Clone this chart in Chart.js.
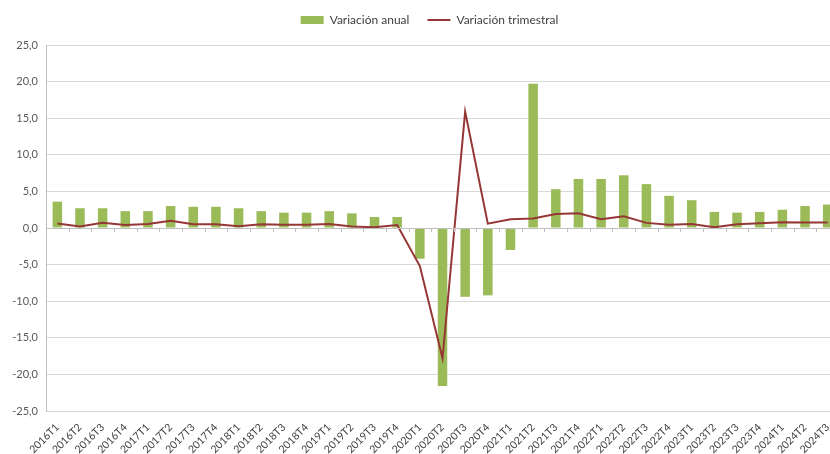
<!DOCTYPE html>
<html>
<head>
<meta charset="utf-8">
<script src="https://cdn.jsdelivr.net/npm/chart.js@4/dist/chart.umd.min.js"></script>
<style>
  html, body { margin: 0; padding: 0; background: #fff; overflow: hidden; }
  #wrap { width: 842px; height: 454px; position: relative; }
</style>
</head>
<body>
<div id="wrap"><canvas id="chart"></canvas></div>
<script>
const quarters = [
  '2016T1','2016T2','2016T3','2016T4',
  '2017T1','2017T2','2017T3','2017T4',
  '2018T1','2018T2','2018T3','2018T4',
  '2019T1','2019T2','2019T3','2019T4',
  '2020T1','2020T2','2020T3','2020T4',
  '2021T1','2021T2','2021T3','2021T4',
  '2022T1','2022T2','2022T3','2022T4',
  '2023T1','2023T2','2023T3','2023T4',
  '2024T1','2024T2','2024T3'
];

const annualChange = [
  3.6, 2.7, 2.7, 2.3,
  2.3, 3.0, 2.9, 2.9,
  2.7, 2.3, 2.1, 2.1,
  2.3, 2.0, 1.5, 1.5,
  -4.2, -21.6, -9.4, -9.2,
  -3.0, 19.7, 5.3, 6.7,
  6.7, 7.2, 6.0, 4.4,
  3.8, 2.2, 2.1, 2.2,
  2.5, 3.0, 3.2
];

const quarterlyChange = [
  0.6, 0.2, 0.7, 0.4,
  0.55, 1.0, 0.5, 0.5,
  0.25, 0.5, 0.45, 0.45,
  0.55, 0.2, 0.1, 0.4,
  -5.2, -17.8, 15.9, 0.6,
  1.2, 1.3, 1.9, 2.0,
  1.2, 1.6, 0.7, 0.45,
  0.55, 0.1, 0.5, 0.65,
  0.8, 0.75, 0.75
];

const FONT = 'Lato, "Open Sans", sans-serif';

// small tick marks on the zero line, at category boundaries (Excel style)
const zeroTicks = {
  id: 'zeroTicks',
  afterDatasetsDraw(chart) {
    const { ctx, scales: { x, y } } = chart;
    const y0 = y.getPixelForValue(0);
    const step = x.getPixelForValue(1) - x.getPixelForValue(0);
    ctx.save();
    ctx.strokeStyle = '#bfbfbf';
    ctx.lineWidth = 1;
    ctx.beginPath();
    ctx.moveTo(x.left, Math.round(y0) + 0.5);
    ctx.lineTo(x.right, Math.round(y0) + 0.5);
    for (let i = 0; i <= quarters.length; i++) {
      const px = Math.round(x.getPixelForValue(0) - step / 2 + i * step) + 0.5;
      ctx.moveTo(px, y0);
      ctx.lineTo(px, y0 + 4);
    }
    ctx.stroke();
    ctx.restore();
  }
};

// fixed legend block height, legend drawn a bit higher and to the right
const legendTweak = {
  id: 'legendTweak',
  beforeInit(chart) {
    const lg = chart.legend;
    const fit = lg.fit;
    lg.fit = function () {
      fit.call(this);
      this.height = 44;
    };
    const draw = lg.draw;
    lg.draw = function () {
      this.top -= 5; this.left += 10; this.right += 10;
      draw.call(this);
      this.top += 5; this.left -= 10; this.right -= 10;
    };
  }
};

new Chart(document.getElementById('chart'), {
  data: {
    labels: quarters,
    datasets: [
      {
        type: 'bar',
        label: 'Variación anual',
        data: annualChange,
        backgroundColor: '#9bbb59',
        barPercentage: 0.42,
        categoryPercentage: 1,
        order: 1
      },
      {
        type: 'line',
        label: 'Variación trimestral',
        data: quarterlyChange,
        borderColor: '#953735',
        backgroundColor: '#953735',
        borderWidth: 2,
        pointRadius: 0,
        tension: 0,
        order: 0
      }
    ]
  },
  options: {
    responsive: true,
    maintainAspectRatio: false,
    animation: false,
    layout: { padding: { left: 0, right: 3, top: 1, bottom: 0 } },
    plugins: {
      tooltip: { enabled: false },
      legend: {
        position: 'top',
        labels: {
          usePointStyle: true,
          pointStyleWidth: 23,
          boxHeight: 8,
          padding: 18,
          color: '#404040',
          font: { family: FONT, size: 12 },
          sort: (a, b) => a.datasetIndex - b.datasetIndex,
          generateLabels(chart) {
            const items = Chart.defaults.plugins.legend.labels.generateLabels(chart);
            items.forEach(it => {
              it.pointStyle = it.datasetIndex === 0 ? 'rect' : 'line';
              it.lineWidth = it.datasetIndex === 0 ? 0 : 2;
            });
            return items;
          }
        }
      }
    },
    scales: {
      x: {
        grid: { display: false },
        border: { display: false },
        ticks: {
          autoSkip: false,
          minRotation: 45,
          maxRotation: 45,
          padding: 2,
          color: '#404040',
          font: { family: FONT, size: 10.5 }
        },
        afterFit(scale) { scale.height = 43; }
      },
      y: {
        min: -25,
        max: 25,
        border: { display: true, color: '#bfbfbf' },
        grid: {
          color: '#d9d9d9',
          drawTicks: false
        },
        ticks: {
          stepSize: 5,
          padding: 8,
          color: '#595959',
          font: { family: FONT, size: 11 },
          callback: v => v.toFixed(1).replace('.', ',')
        },
        afterFit(scale) { scale.width = 46; }
      }
    }
  },
  plugins: [zeroTicks, legendTweak]
});
</script>
</body>
</html>
